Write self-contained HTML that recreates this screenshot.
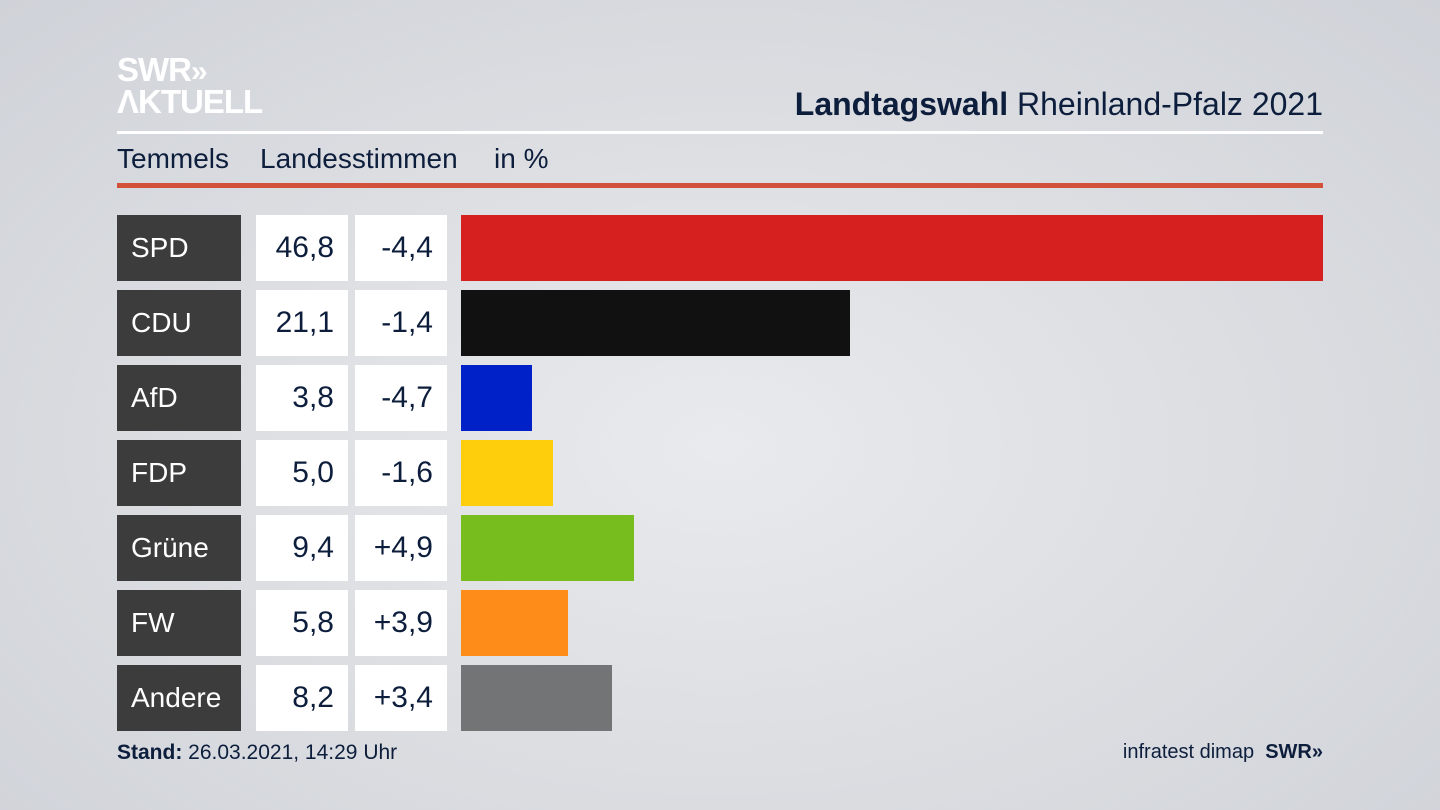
<!DOCTYPE html>
<html><head><meta charset="utf-8"><style>
html,body{margin:0;padding:0}
body{width:1440px;height:810px;position:relative;overflow:hidden;font-family:"Liberation Sans",sans-serif;
background:radial-gradient(ellipse at 50% 55%,#e9eaee 0%,#dcdee2 50%,#cfd2d8 100%);color:#0d1e3c}
.abs{position:absolute}
.logo{left:117px;font-weight:bold;color:#fff;font-size:33px;letter-spacing:-1px;line-height:34px}
.lab{left:117px;width:124px;height:66px;background:#3c3c3c;color:#fff;font-size:28px;line-height:66px;box-sizing:border-box;padding-left:14px}
.v{width:92px;height:66px;background:#fff;font-size:30px;line-height:66px;text-align:right;box-sizing:border-box;padding-right:14px}
.bar{left:461px;height:66px}
.sub{top:143px;font-size:28px}
</style></head><body>
<div class="abs logo" style="top:53px">SWR<span style="font-size:30px">»</span></div>
<div class="abs logo" style="top:85px">ΛKTUELL</div>
<div class="abs" style="right:117px;top:86px;font-size:32px"><b>Landtagswahl</b> Rheinland-Pfalz 2021</div>
<div class="abs" style="left:117px;top:131px;width:1206px;height:3px;background:#fff"></div>
<div class="abs sub" style="left:117px">Temmels</div>
<div class="abs sub" style="left:260px">Landesstimmen</div>
<div class="abs sub" style="left:494px">in %</div>
<div class="abs" style="left:117px;top:183px;width:1206px;height:5px;background:#d3503a"></div>

<div class="abs lab" style="top:215px">SPD</div><div class="abs v" style="left:256px;top:215px">46,8</div><div class="abs v" style="left:355px;top:215px">-4,4</div><div class="abs bar" style="top:215px;width:862px;background:#d61f1f"></div>
<div class="abs lab" style="top:290px">CDU</div><div class="abs v" style="left:256px;top:290px">21,1</div><div class="abs v" style="left:355px;top:290px">-1,4</div><div class="abs bar" style="top:290px;width:389px;background:#111"></div>
<div class="abs lab" style="top:365px">AfD</div><div class="abs v" style="left:256px;top:365px">3,8</div><div class="abs v" style="left:355px;top:365px">-4,7</div><div class="abs bar" style="top:365px;width:71px;background:#0021c8"></div>
<div class="abs lab" style="top:440px">FDP</div><div class="abs v" style="left:256px;top:440px">5,0</div><div class="abs v" style="left:355px;top:440px">-1,6</div><div class="abs bar" style="top:440px;width:92px;background:#fecd0b"></div>
<div class="abs lab" style="top:515px">Grüne</div><div class="abs v" style="left:256px;top:515px">9,4</div><div class="abs v" style="left:355px;top:515px">+4,9</div><div class="abs bar" style="top:515px;width:173px;background:#77bd1e"></div>
<div class="abs lab" style="top:590px">FW</div><div class="abs v" style="left:256px;top:590px">5,8</div><div class="abs v" style="left:355px;top:590px">+3,9</div><div class="abs bar" style="top:590px;width:107px;background:#fd8c19"></div>
<div class="abs lab" style="top:665px">Andere</div><div class="abs v" style="left:256px;top:665px">8,2</div><div class="abs v" style="left:355px;top:665px">+3,4</div><div class="abs bar" style="top:665px;width:151px;background:#737475"></div>

<div class="abs" style="left:117px;top:741px;font-size:21px"><b>Stand:</b> 26.03.2021, 14:29 Uhr</div>
<div class="abs" style="right:117px;top:741px;font-size:20px">infratest dimap&nbsp;&nbsp;<b>SWR»</b></div>
</body></html>
